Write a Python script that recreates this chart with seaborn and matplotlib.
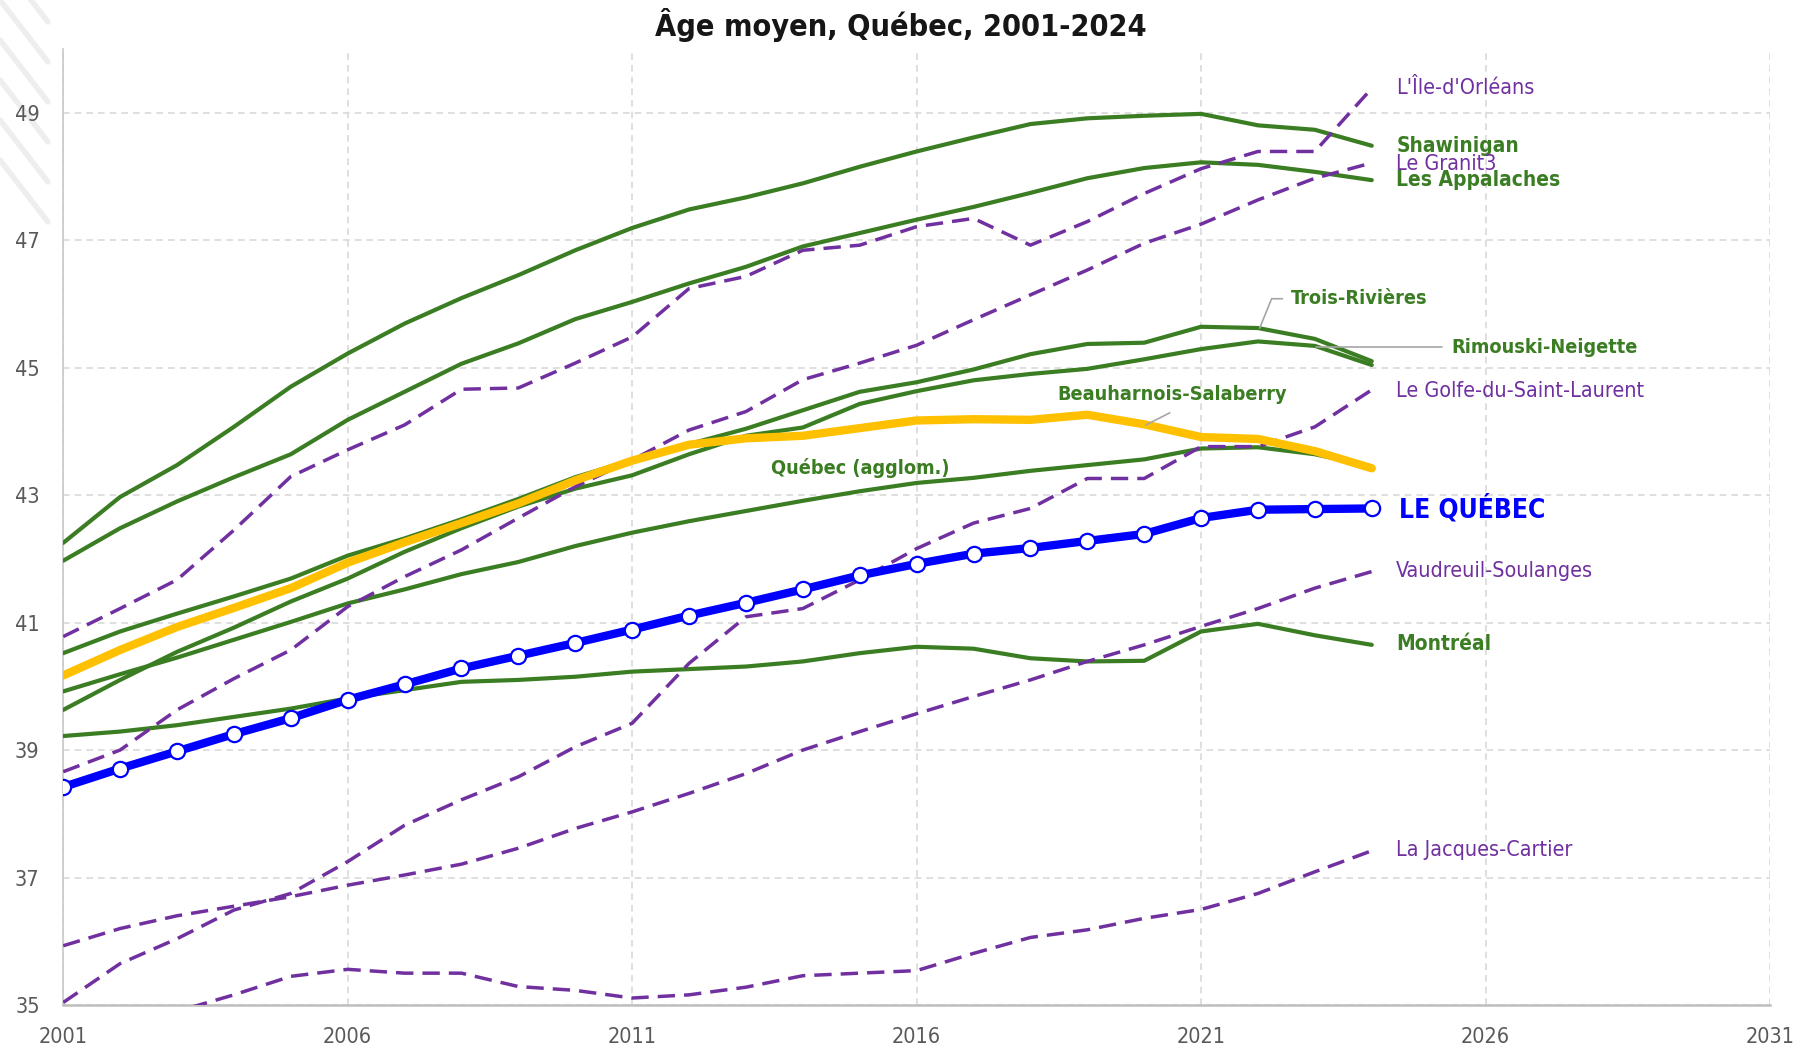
import matplotlib
matplotlib.use("Agg")
import matplotlib.pyplot as plt
import matplotlib.font_manager as fm
from matplotlib.lines import Line2D
import seaborn as sns
import pandas as pd

# ---------------- data ----------------
years = list(range(2001, 2025))

le_quebec = [38.42, 38.71, 38.98, 39.25, 39.50, 39.79, 40.03, 40.28, 40.48, 40.68, 40.89, 41.11,
             41.31, 41.52, 41.74, 41.92, 42.08, 42.17, 42.28, 42.39, 42.64, 42.77, 42.78, 42.79]
quebec_agglom = [40.17, 40.57, 40.93, 41.23, 41.54, 41.94, 42.26, 42.56, 42.87, 43.23, 43.54, 43.79,
                 43.89, 43.93, 44.05, 44.17, 44.19, 44.18, 44.26, 44.11, 43.91, 43.88, 43.69, 43.42]
beauharnois = [39.92, 40.19, 40.45, 40.73, 41.01, 41.30, 41.52, 41.76, 41.95, 42.20, 42.41, 42.59,
               42.75, 42.91, 43.06, 43.19, 43.27, 43.38, 43.47, 43.56, 43.73, 43.75, 43.64, 43.45]
trois_rivieres = [40.52, 40.86, 41.14, 41.41, 41.69, 42.05, 42.32, 42.62, 42.94, 43.28, 43.55, 43.80,
                  44.04, 44.33, 44.62, 44.77, 44.97, 45.21, 45.37, 45.39, 45.64, 45.62, 45.45, 45.10]
rimouski = [39.63, 40.10, 40.54, 40.92, 41.33, 41.69, 42.11, 42.48, 42.82, 43.10, 43.31, 43.64,
            43.93, 44.06, 44.43, 44.63, 44.80, 44.90, 44.98, 45.13, 45.29, 45.41, 45.34, 45.04]
montreal = [39.22, 39.29, 39.39, 39.52, 39.65, 39.81, 39.94, 40.07, 40.10, 40.15, 40.23, 40.27,
            40.31, 40.39, 40.52, 40.62, 40.59, 40.44, 40.39, 40.40, 40.86, 40.98, 40.80, 40.65]
shawinigan = [42.25, 42.97, 43.47, 44.07, 44.70, 45.22, 45.69, 46.09, 46.45, 46.84, 47.19, 47.48,
              47.67, 47.89, 48.15, 48.39, 48.61, 48.82, 48.91, 48.95, 48.98, 48.80, 48.73, 48.48]
appalaches = [41.97, 42.48, 42.90, 43.28, 43.64, 44.18, 44.62, 45.06, 45.38, 45.76, 46.03, 46.32,
              46.58, 46.90, 47.11, 47.32, 47.52, 47.74, 47.97, 48.13, 48.22, 48.18, 48.07, 47.94]
ile_orleans = [40.78, 41.22, 41.67, 42.45, 43.29, 43.71, 44.10, 44.66, 44.68, 45.07, 45.48, 46.24,
               46.43, 46.84, 46.92, 47.21, 47.34, 46.92, 47.29, 47.73, 48.12, 48.39, 48.39, 49.38]
le_granit = [38.66, 39.00, 39.63, 40.12, 40.57, 41.25, 41.72, 42.14, 42.64, 43.13, 43.55, 44.02,
             44.31, 44.81, 45.07, 45.35, 45.75, 46.14, 46.53, 46.95, 47.25, 47.63, 47.97, 48.21]
golfe = [35.04, 35.65, 36.04, 36.49, 36.75, 37.25, 37.82, 38.22, 38.58, 39.05, 39.42, 40.36,
         41.09, 41.22, 41.67, 42.16, 42.56, 42.79, 43.26, 43.26, 43.76, 43.76, 44.07, 44.65]
vaudreuil = [35.93, 36.20, 36.40, 36.55, 36.70, 36.88, 37.04, 37.21, 37.46, 37.77, 38.03, 38.32,
             38.63, 39.00, 39.29, 39.57, 39.84, 40.10, 40.39, 40.65, 40.94, 41.22, 41.54, 41.80]
jacques_cartier = [34.40, 34.65, 34.90, 35.16, 35.45, 35.56, 35.50, 35.50, 35.29, 35.23, 35.11, 35.16,
                   35.28, 35.46, 35.50, 35.54, 35.81, 36.06, 36.18, 36.36, 36.50, 36.75, 37.09, 37.42]

x_ticks = [2001, 2006, 2011, 2016, 2021, 2026, 2031]
y_ticks = [35, 37, 39, 41, 43, 45, 47, 49]
title = "Âge moyen, Québec, 2001-2024"

# ---------------- style ----------------
GREEN = "#3B7D23"
PURPLE = "#7030A0"
YELLOW = "#FFC000"
BLUE = "#0000FF"
GRID = "#D9D9D9"
TICK = "#595959"

sns.set_style("white")
avail = {f.name for f in fm.fontManager.ttflist}
if "Liberation Sans Narrow" in avail:
    NARROW, STRETCH = "Liberation Sans Narrow", "normal"
else:
    NARROW, STRETCH = "DejaVu Sans", "condensed"
plt.rcParams["font.family"] = [NARROW, "DejaVu Sans"]
plt.rcParams["font.stretch"] = STRETCH

fig = plt.figure(figsize=(18.01, 10.48), dpi=100)
ax = fig.add_axes([0.0351, 0.0410, 0.9477, 0.9124])

dash = (0, (5, 2.6))
green_series = [shawinigan, appalaches, trois_rivieres, rimouski, beauharnois, montreal]
purple_series = [ile_orleans, le_granit, golfe, vaudreuil, jacques_cartier]

for s in green_series:
    sns.lineplot(x=years, y=s, ax=ax, color=GREEN, linewidth=3.0, zorder=3,
                 solid_capstyle="round", solid_joinstyle="round", legend=False)
for s in purple_series:
    sns.lineplot(x=years, y=s, ax=ax, color=PURPLE, linewidth=2.5, linestyle=dash, zorder=4,
                 dash_capstyle="butt", legend=False)
sns.lineplot(x=years, y=quebec_agglom, ax=ax, color=YELLOW, linewidth=6.0, zorder=5,
             solid_capstyle="round", solid_joinstyle="round", legend=False)
sns.lineplot(x=years, y=le_quebec, ax=ax, color=BLUE, linewidth=6.0, zorder=6,
             marker="o", markersize=11, markerfacecolor="white", markeredgecolor=BLUE,
             markeredgewidth=1.6, solid_joinstyle="round", legend=False)

ax.set_xlim(2001, 2031)
ax.set_ylim(35, 50)
ax.set_xticks(x_ticks)
ax.set_yticks(y_ticks)
ax.set_xticklabels([str(t) for t in x_ticks])
ax.set_yticklabels([str(t) for t in y_ticks])
ax.tick_params(axis="both", length=0, labelsize=15.5, colors=TICK)
ax.tick_params(axis="x", pad=16)
ax.tick_params(axis="y", pad=17)
ax.set_xlabel("")
ax.set_ylabel("")
ax.grid(True, color=GRID, linestyle=(0, (4, 3)), linewidth=1.2, zorder=0)
ax.set_axisbelow(True)
for side in ["top", "right"]:
    ax.spines[side].set_visible(False)
ax.spines["left"].set_color("#C8C8C8")
ax.spines["left"].set_linewidth(1.2)
ax.spines["bottom"].set_color("#BFBFBF")
ax.spines["bottom"].set_linewidth(1.8)

# ---------------- labels ----------------
def lab(x, y, s, color, size, bold):
    ax.text(x, y, s, color=color, fontsize=size, fontweight="bold" if bold else "normal",
            ha="left", va="center", zorder=8)

PS, GS = 15.4, 14.2
lab(2024.43, 49.38, "L'Île-d'Orléans", PURPLE, PS, False)
lab(2024.43, 48.48, "Shawinigan", GREEN, GS + 0.8, True)
lab(2024.43, 48.19, "Le Granit3", PURPLE, PS, False)
lab(2024.43, 47.94, "Les Appalaches", GREEN, GS + 0.8, True)
lab(2022.58, 46.08, "Trois-Rivières", GREEN, GS, True)
lab(2025.40, 45.32, "Rimouski-Neigette", GREEN, GS, True)
lab(2024.43, 44.64, "Le Golfe-du-Saint-Laurent", PURPLE, PS, False)
lab(2018.47, 44.57, "Beauharnois-Salaberry", GREEN, GS, True)
lab(2013.44, 43.42, "Québec (agglom.)", GREEN, GS, True)
lab(2024.47, 42.77, "LE QUÉBEC", BLUE, 19, True)
lab(2024.43, 41.81, "Vaudreuil-Soulanges", PURPLE, PS, False)
lab(2024.43, 40.66, "Montréal", GREEN, GS + 0.8, True)
lab(2024.43, 37.43, "La Jacques-Cartier", PURPLE, PS, False)

LEAD = "#A6A6A6"
ax.plot([2022.43, 2022.24, 2022.03], [46.08, 46.08, 45.62], color=LEAD, lw=1.2, zorder=7)
ax.plot([2025.24, 2023.02], [45.32, 45.32], color=LEAD, lw=1.2, zorder=7)
ax.plot([2020.45, 2020.03], [44.29, 44.10], color=LEAD, lw=1.2, zorder=7)

fig.text(0.5, 0.976, title, ha="center", va="center", fontsize=22, fontweight="bold",
         color="#161616")

# decorative diagonal stripes, top-left corner
for y0 in [-40, 0, 40, 80, 120, 160]:
    x0, x1 = 0, 48
    ya, yb = 1048 - y0, 1048 - (y0 + 62)
    fig.add_artist(Line2D([x0 / 1801, x1 / 1801], [ya / 1048, yb / 1048],
                          transform=fig.transFigure, color="#EEEEEE", lw=4, zorder=0))

fig.savefig("out.png", dpi=100)
